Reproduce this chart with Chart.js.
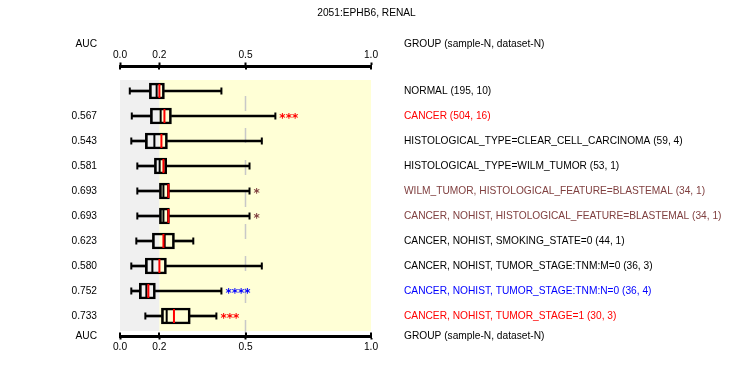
<!DOCTYPE html>
<html><head><meta charset="utf-8">
<script src="https://cdn.jsdelivr.net/npm/chart.js@4"></script>
<style>html,body{margin:0;padding:0;background:#fff}#wrap{width:733px;height:380px}</style>
</head><body><div id="wrap"><canvas id="c" width="733" height="380"></canvas></div>
<script>
const chartTitle = "2051:EPHB6, RENAL";
const groups = [
  "NORMAL (195, 10)",
  "CANCER (504, 16)",
  "HISTOLOGICAL_TYPE=CLEAR_CELL_CARCINOMA (59, 4)",
  "HISTOLOGICAL_TYPE=WILM_TUMOR (53, 1)",
  "WILM_TUMOR, HISTOLOGICAL_FEATURE=BLASTEMAL (34, 1)",
  "CANCER, NOHIST, HISTOLOGICAL_FEATURE=BLASTEMAL (34, 1)",
  "CANCER, NOHIST, SMOKING_STATE=0 (44, 1)",
  "CANCER, NOHIST, TUMOR_STAGE:TNM:M=0 (36, 3)",
  "CANCER, NOHIST, TUMOR_STAGE:TNM:N=0 (36, 4)",
  "CANCER, NOHIST, TUMOR_STAGE=1 (30, 3)"
];
const aucLabels = ["", "0.567", "0.543", "0.581", "0.693", "0.693", "0.623", "0.580", "0.752", "0.733"];
const BROWN = "#804040";
const groupColors = ["#000000", "#ff0000", "#000000", "#000000", BROWN, BROWN, "#000000", "#000000", "#0000ff", "#ff0000"];
const whiskerLow  = [0.039, 0.047, 0.045, 0.069, 0.069, 0.069, 0.065, 0.045, 0.045, 0.101];
const q1          = [0.117, 0.121, 0.101, 0.137, 0.157, 0.157, 0.129, 0.101, 0.077, 0.165];
const median      = [0.146, 0.162, 0.137, 0.158, 0.173, 0.173, 0.178, 0.129, 0.105, 0.186];
const mean        = [0.157, 0.177, 0.165, 0.173, 0.193, 0.193, 0.173, 0.157, 0.113, 0.215];
const q3          = [0.177, 0.205, 0.189, 0.186, 0.197, 0.197, 0.217, 0.185, 0.141, 0.280];
const whiskerHigh = [0.404, 0.619, 0.565, 0.516, 0.516, 0.516, 0.292, 0.565, 0.404, 0.384];
const stars = ["", "***", "", "", "*", "*", "", "", "****", "***"];
const xTickValues = [0, mean[0], 0.5, 1.0];
const xTickLabels = ["0.0", "0.2", "0.5", "1.0"];
const headerLeft = "AUC";
const headerRight = "GROUP (sample-N, dataset-N)";
const refLine = 0.5;

const rows = groups.map((_, i) => i);
const yTickValues = [-1.86].concat(rows, [9.8]);
const leftLabels = [headerLeft].concat(aucLabels, [headerLeft]);
const rightLabels = [headerRight].concat(groups, [headerRight]);
const rightColors = ["#000000"].concat(groupColors, ["#000000"]);

Chart.defaults.font.family = "'Liberation Sans', Arial, sans-serif";
Chart.defaults.font.size = 10.2;
Chart.defaults.color = "#000";

const bgPlugin = {
  id: 'bg',
  beforeDatasetsDraw(chart) {
    const {ctx} = chart; const xs = chart.scales.x, ys = chart.scales.y;
    const top = ys.getPixelForValue(-0.44), bot = ys.getPixelForValue(9.6);
    const x0 = xs.getPixelForValue(0), xm = xs.getPixelForValue(mean[0]), x1 = xs.getPixelForValue(1);
    ctx.save();
    ctx.fillStyle = '#f0f0f0'; ctx.fillRect(x0, top, xm - x0, bot - top);
    ctx.fillStyle = '#ffffd6'; ctx.fillRect(xm, top, x1 - xm, bot - top);
    ctx.restore();
  }
};
const extrasPlugin = {
  id: 'extras',
  afterDatasetsDraw(chart) {
    const {ctx} = chart; const xs = chart.scales.x, ys = chart.scales.y;
    ctx.save();
    ctx.font = "bold 12px 'DejaVu Sans'";
    ctx.textAlign = 'left'; ctx.textBaseline = 'alphabetic';
    rows.forEach(i => {
      if (!stars[i]) return;
      ctx.fillStyle = groupColors[i];
      ctx.fillText(stars[i], xs.getPixelForValue(whiskerHigh[i]) + 4, ys.getPixelForValue(i) + 5.5);
    });
    ctx.restore();
  },
  afterDraw(chart) {
    const {ctx} = chart; const xb = chart.scales.x, xt = chart.scales.xTop;
    ctx.save(); ctx.strokeStyle = '#000'; ctx.lineWidth = 2;
    xTickValues.forEach(v => {
      const px = Math.round(xb.getPixelForValue(v));
      ctx.beginPath(); ctx.moveTo(px, xt.bottom); ctx.lineTo(px, xt.bottom + 3.5); ctx.stroke();
      ctx.beginPath(); ctx.moveTo(px, xb.top); ctx.lineTo(px, xb.top - 3.5); ctx.stroke();
    });
    ctx.restore();
  }
};

const xAxisCommon = {
  type: 'linear', axis: 'x', min: 0, max: 1, offset: false,
  afterBuildTicks: s => { s.ticks = xTickValues.map(v => ({value: v})); },
  ticks: { callback: (v, i) => xTickLabels[i], autoSkip: false, maxRotation: 0, color: '#000' },
  grid: { drawOnChartArea: false, offset: false, tickLength: 3.5, tickWidth: 2, tickColor: '#000' },
  border: { color: '#000', width: 3 }
};
const yAxisCommon = {
  type: 'linear', axis: 'y', min: -1, max: 9.8, reverse: true, offset: false,
  afterBuildTicks: s => { s.ticks = yTickValues.map(v => ({value: v})); },
  grid: { display: false, drawTicks: false, offset: false }, border: { display: false }
};
const TITLE_H = 7 + 10.2 * 1.2;

new Chart(document.getElementById('c'), {
  type: 'bar',
  data: { datasets: [
    { type: 'scatter', label: 'mean', data: rows.map(i => ({x: mean[i], y: i})),
      pointStyle: 'line', pointRotation: 90, pointRadius: 7, pointBorderColor: '#ff0000', pointBorderWidth: 2, order: 0 },
    { type: 'scatter', label: 'median', data: rows.map(i => ({x: median[i], y: i})),
      pointStyle: 'line', pointRotation: 90, pointRadius: 7, pointBorderColor: '#000', pointBorderWidth: 2, order: 1 },
    { type: 'scatter', label: 'caps', data: rows.flatMap(i => [{x: whiskerLow[i], y: i}, {x: whiskerHigh[i], y: i}]),
      pointStyle: 'line', pointRotation: 90, pointRadius: 3.5, pointBorderColor: '#000', pointBorderWidth: 2, order: 2 },
    { type: 'bar', label: 'box', indexAxis: 'y', data: rows.map(i => ({x: [q1[i], q3[i]], y: i})),
      backgroundColor: 'rgba(0,0,0,0)', borderColor: '#000', borderWidth: 2, borderSkipped: false,
      grouped: false, barPercentage: 1, categoryPercentage: 1, maxBarThickness: 16, order: 3 },
    { type: 'bar', label: 'whiskerLow', indexAxis: 'y', data: rows.map(i => ({x: [whiskerLow[i], q1[i]], y: i})),
      backgroundColor: '#000', borderWidth: 0, grouped: false, barPercentage: 1, categoryPercentage: 1, maxBarThickness: 2, order: 4 },
    { type: 'bar', label: 'whiskerHigh', indexAxis: 'y', data: rows.map(i => ({x: [q3[i], whiskerHigh[i]], y: i})),
      backgroundColor: '#000', borderWidth: 0, grouped: false, barPercentage: 1, categoryPercentage: 1, maxBarThickness: 2, order: 5 },
    { type: 'line', label: 'ref', data: [{x: refLine, y: 0.2}, {x: refLine, y: 9.8}],
      borderColor: '#c8c8c8', borderWidth: 1.5, borderDash: [15, 17], pointRadius: 0, order: 6 }
  ]},
  options: {
    responsive: false, animation: false, devicePixelRatio: 1,
    layout: { padding: 0 },
    plugins: {
      legend: { display: false }, tooltip: { enabled: false },
      title: { display: true, text: chartTitle, color: '#000', font: { size: 10.2, weight: 'normal' }, padding: { top: 7, bottom: 0 } }
    },
    scales: {
      x: Object.assign({}, xAxisCommon, { position: 'bottom', ticks: Object.assign({}, xAxisCommon.ticks, { padding: 2 }),
        afterFit: s => { s.height = 44; } }),
      xTop: Object.assign({}, xAxisCommon, { position: 'top', ticks: Object.assign({}, xAxisCommon.ticks, { padding: 1 }),
        afterFit: s => { s.height = 66 - TITLE_H; } }),
      y: Object.assign({}, yAxisCommon, { position: 'left',
        ticks: { callback: (v, i) => leftLabels[i], autoSkip: false, padding: 23, color: '#000' },
        afterFit: s => { s.width = 120; } }),
      yRight: Object.assign({}, yAxisCommon, { position: 'right',
        ticks: { callback: (v, i) => rightLabels[i], autoSkip: false, padding: 33, color: c => rightColors[c.index] },
        afterFit: s => { s.width = 733 - 371; } })
    }
  },
  plugins: [bgPlugin, extrasPlugin]
});
</script>
</body></html>
